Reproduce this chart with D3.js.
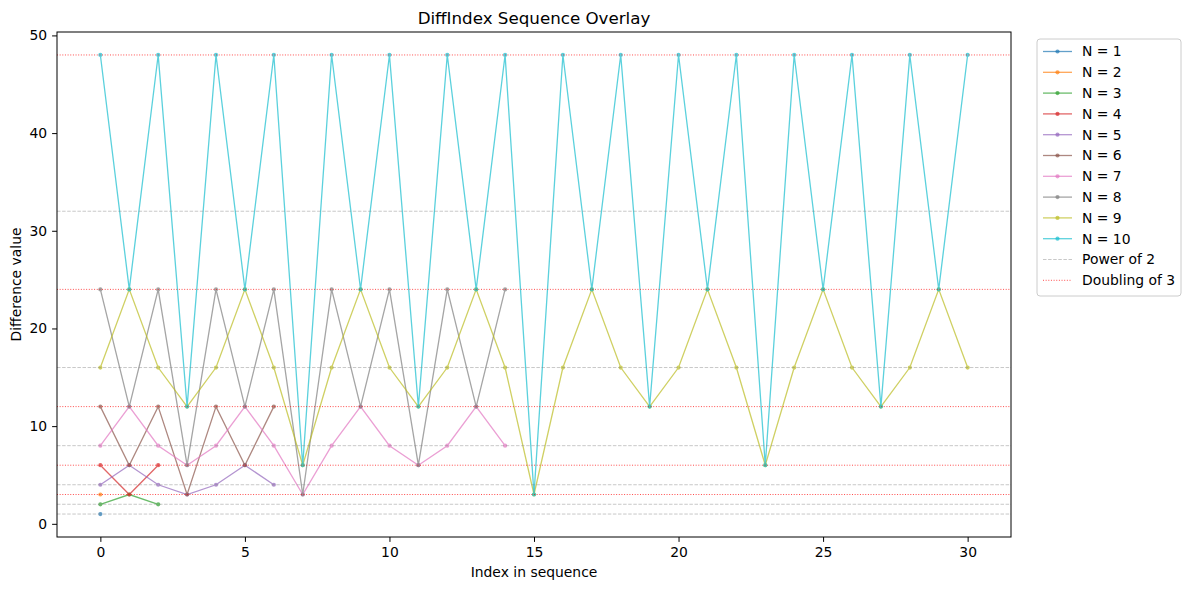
<!DOCTYPE html>
<html>
<head>
<meta charset="utf-8">
<script src="https://cdn.jsdelivr.net/npm/d3@7"></script>
<style>
  body { margin: 0; background: #fff; }
  svg { font-family: "DejaVu Sans", sans-serif; }
</style>
</head>
<body>
<div id="chart"></div>
<script>
// Sequences, one per N
const seriesNames = ['N = 1', 'N = 2', 'N = 3', 'N = 4', 'N = 5', 'N = 6', 'N = 7', 'N = 8', 'N = 9', 'N = 10']
const seqN1 = [1]
const seqN2 = [3]
const seqN3 = [2, 3, 2]
const seqN4 = [6, 3, 6]
const seqN5 = [4, 6, 4, 3, 4, 6, 4]
const seqN6 = [12, 6, 12, 3, 12, 6, 12]
const seqN7 = [8, 12, 8, 6, 8, 12, 8, 3, 8, 12, 8, 6, 8, 12, 8]
const seqN8 = [24, 12, 24, 6, 24, 12, 24, 3, 24, 12, 24, 6, 24, 12, 24]
const seqN9 = [16, 24, 16, 12, 16, 24, 16, 6, 16, 24, 16, 12, 16, 24, 16, 3,
  16, 24, 16, 12, 16, 24, 16, 6, 16, 24, 16, 12, 16, 24, 16]
const seqN10 = [48, 24, 48, 12, 48, 24, 48, 6, 48, 24, 48, 12, 48, 24, 48, 3,
  48, 24, 48, 12, 48, 24, 48, 6, 48, 24, 48, 12, 48, 24, 48]
const sequences = [seqN1, seqN2, seqN3, seqN4, seqN5, seqN6, seqN7, seqN8, seqN9, seqN10]

const powersOf2 = [1, 2, 4, 8, 16, 32]
const doublingsOf3 = [3, 6, 12, 24, 48]

const xTicks = [0, 5, 10, 15, 20, 25, 30]
const yTicks = [0, 10, 20, 30, 40, 50]

const colors = d3.schemeCategory10

const width = 1190
const height = 590
const margin = { left: 57, right: 179, top: 32, bottom: 53 }

const svg = d3.select('#chart')
  .append('svg')
  .attr('width', width)
  .attr('height', height)

const x = d3.scaleLinear()
  .domain([-1.5, 31.5])
  .range([margin.left, width - margin.right])

const y = d3.scaleLinear()
  .domain([-1.35, 50.35])
  .range([height - margin.bottom, margin.top])

const plot = svg.append('g')

// Series
const line = d3.line()
  .x((d, i) => x(i))
  .y(d => y(d))

sequences.forEach((seq, k) => {
  const g = plot.append('g').attr('opacity', 0.7)
  g.append('path')
    .datum(seq)
    .attr('d', line)
    .attr('fill', 'none')
    .attr('stroke', colors[k])
    .attr('stroke-width', 1.3)
  g.selectAll('circle')
    .data(seq)
    .enter()
    .append('circle')
    .attr('cx', (d, i) => x(i))
    .attr('cy', d => y(d))
    .attr('r', 2.1)
    .attr('fill', colors[k])
})

// Reference lines
const pow2Style = { color: 'gray', opacity: 0.55, width: 0.8, dash: '3.5,1.6' }
const dbl3Style = { color: 'red', opacity: 0.7, width: 1, dash: '1,1.65' }

function refLines(values, cls, st) {
  plot.selectAll('line.' + cls)
    .data(values)
    .enter()
    .append('line')
    .attr('class', cls)
    .attr('x1', x.range()[0])
    .attr('x2', x.range()[1])
    .attr('y1', d => y(d))
    .attr('y2', d => y(d))
    .attr('stroke', st.color)
    .attr('stroke-opacity', st.opacity)
    .attr('stroke-width', st.width)
    .attr('stroke-dasharray', st.dash)
}
refLines(powersOf2, 'pow2', pow2Style)
refLines(doublingsOf3, 'dbl3', dbl3Style)

// Axes
const xAxis = svg.append('g')
  .attr('transform', `translate(0,${height - margin.bottom})`)
  .call(d3.axisBottom(x).tickValues(xTicks).tickSize(4.9).tickPadding(4.9))
const yAxis = svg.append('g')
  .attr('transform', `translate(${margin.left},0)`)
  .call(d3.axisLeft(y).tickValues(yTicks).tickSize(4.9).tickPadding(4.9))

;[xAxis, yAxis].forEach(a => {
  a.select('.domain').remove()
  a.selectAll('text').attr('font-size', 13.9).attr('fill', '#000').attr('font-family', '"DejaVu Sans", sans-serif')
  a.selectAll('line').attr('stroke', '#000').attr('stroke-width', 1)
})

svg.append('rect')
  .attr('x', x.range()[0])
  .attr('y', y.range()[1])
  .attr('width', x.range()[1] - x.range()[0])
  .attr('height', y.range()[0] - y.range()[1])
  .attr('fill', 'none')
  .attr('stroke', '#000')
  .attr('stroke-width', 1)

// Labels
svg.append('text')
  .attr('x', (x.range()[0] + x.range()[1]) / 2)
  .attr('y', 24)
  .attr('text-anchor', 'middle')
  .attr('font-size', 16.7)
  .text('DiffIndex Sequence Overlay')

svg.append('text')
  .attr('x', (x.range()[0] + x.range()[1]) / 2)
  .attr('y', 577)
  .attr('text-anchor', 'middle')
  .attr('font-size', 13.9)
  .text('Index in sequence')

svg.append('text')
  .attr('transform', `translate(21,${(y.range()[0] + y.range()[1]) / 2}) rotate(-90)`)
  .attr('text-anchor', 'middle')
  .attr('font-size', 13.9)
  .text('Difference value')

// Legend
const legend = svg.append('g').attr('transform', 'translate(1037,39)')
legend.append('rect')
  .attr('width', 144)
  .attr('height', 257)
  .attr('rx', 3)
  .attr('fill', '#fff')
  .attr('fill-opacity', 0.8)
  .attr('stroke', '#ccc')
  .attr('stroke-width', 1)

const legendItems = seriesNames.map((name, k) => ({ name, color: colors[k], kind: 'series' }))
  .concat([
    { name: 'Power of 2', kind: 'ref', st: pow2Style },
    { name: 'Doubling of 3', kind: 'ref', st: dbl3Style }
  ])

const item = legend.selectAll('g.item')
  .data(legendItems)
  .enter()
  .append('g')
  .attr('class', 'item')
  .attr('transform', (d, i) => `translate(0,${12.5 + i * 20.8})`)

item.append('line')
  .attr('x1', 6)
  .attr('x2', 35)
  .attr('stroke', d => d.kind === 'series' ? d.color : d.st.color)
  .attr('stroke-opacity', d => d.kind === 'series' ? 0.7 : d.st.opacity)
  .attr('stroke-width', d => d.kind === 'series' ? 1.3 : d.st.width)
  .attr('stroke-dasharray', d => d.kind === 'series' ? null : d.st.dash)

item.filter(d => d.kind === 'series')
  .append('circle')
  .attr('cx', 20.5)
  .attr('r', 2.1)
  .attr('fill', d => d.color)
  .attr('opacity', 0.7)

item.append('text')
  .attr('x', 45)
  .attr('dy', '0.35em')
  .attr('font-size', 13.9)
  .text(d => d.name)
</script>
</body>
</html>
